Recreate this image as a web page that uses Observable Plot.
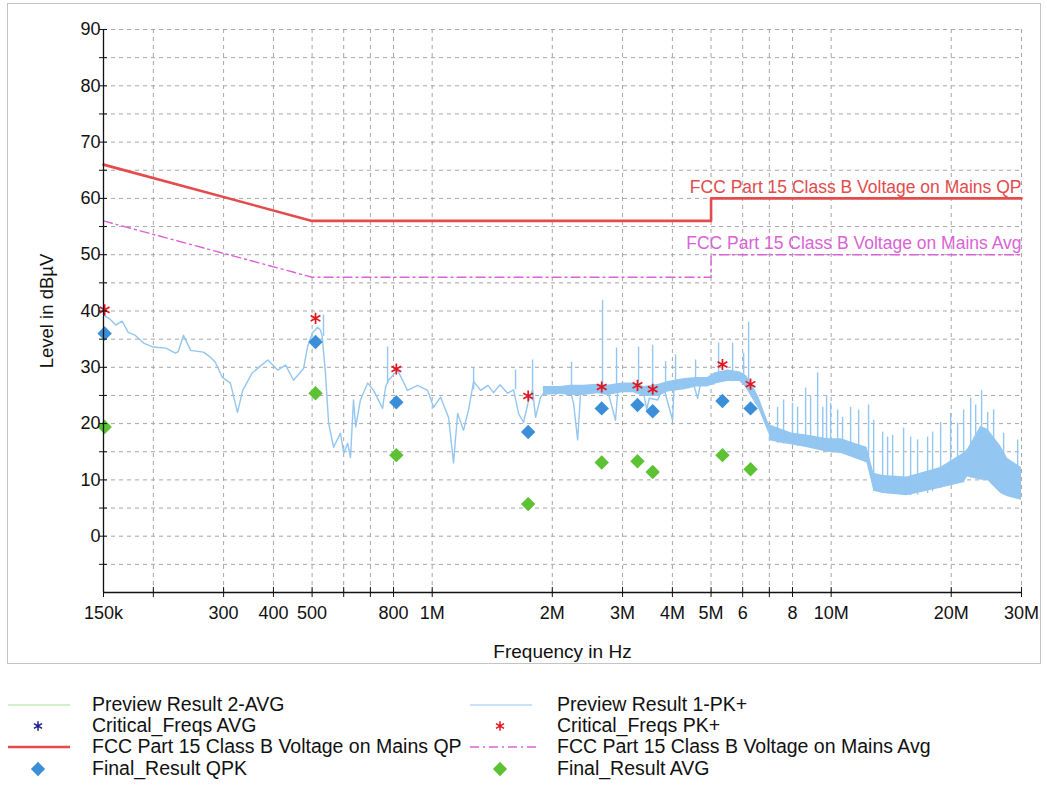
<!DOCTYPE html>
<html><head><meta charset="utf-8">
<script src="https://cdn.jsdelivr.net/npm/d3@7"></script>
<script src="https://cdn.jsdelivr.net/npm/@observablehq/plot@0.6"></script>
<style>
body{margin:0;background:#fff;font-family:"Liberation Sans",Arial,sans-serif;}
#wrap{position:relative;width:1047px;height:785px;overflow:hidden;}
#frame{position:absolute;left:7px;top:3px;width:1032px;height:659px;border:1px solid #c4c4c4;pointer-events:none;}
#chart{position:absolute;left:0;top:0;}
#legend{position:absolute;left:0;top:0;width:1047px;height:785px;pointer-events:none;}
.lg{position:absolute;font-size:19.5px;color:#111;white-space:nowrap;line-height:21px;}
</style></head><body>
<div id="wrap"><div id="chart"></div><div id="frame"></div><div id="legend"></div></div>
<script>
// ---- Data (frequency in MHz, level in dBµV) ----
const traceF = [0.150,0.156,0.161,0.167,0.173,0.180,0.189,0.200,0.215,0.227,0.231,0.238,0.248,0.267,0.278,0.286,0.298,0.312,0.325,0.335,0.354,0.387,0.410,0.429,0.449,0.476,0.487,0.501,0.516,0.525,0.530,0.540,0.550,0.566,0.589,0.600,0.614,0.624,0.635,0.643,0.661,0.689,0.713,0.751,0.764,0.777,0.819,0.867,0.919,0.974,1.008,1.050,1.099,1.131,1.158,1.198,1.233,1.270,1.322,1.380,1.425,1.480,1.545,1.600,1.646,1.694,1.743,1.785,1.816,1.869,1.947,1.980,2.040,2.098,2.135,2.180,2.225,2.262,2.315,2.355,2.430,2.495,2.600,2.751,2.881,2.920,3.018,3.142,3.250,3.387,3.450,3.500,3.673,3.800,4.005,4.040,4.150,4.266,4.380,4.500,4.626,4.720,4.900,5.074,5.200,5.345,5.500,5.620,5.750,5.931,6.100,6.260,6.393,6.654,7.049];
const traceL = [39.3,38.5,37.5,38.2,36.2,35.7,34.3,33.6,33.4,32.5,32.8,35.7,33.0,32.7,31.8,30.9,28.2,27.2,22.0,25.9,29.0,31.3,29.5,30.4,27.7,29.8,33.6,36.1,37.1,36.6,35.5,29.0,20.1,15.8,18.3,14.7,16.5,14.0,24.2,19.4,24.2,27.2,25.9,22.7,26.5,27.7,29.5,25.9,26.8,25.9,22.9,24.7,21.1,13.0,21.8,18.8,22.4,27.5,25.9,26.8,25.5,26.9,25.4,26.0,21.8,20.2,24.0,26.0,21.1,24.7,26.3,26.3,25.2,25.9,25.9,25.0,25.5,23.5,17.1,25.5,26.6,25.9,26.0,25.9,20.6,26.0,26.5,26.8,25.8,25.4,22.5,24.5,24.2,26.5,20.6,27.0,26.2,27.2,26.4,27.5,24.5,27.5,27.4,27.0,28.4,29.0,29.0,27.6,28.5,28.2,28.5,27.0,25.9,22.9,18.8];
const denseF    = [1.90,2.10,2.22,2.40,2.60,2.75,3.00,3.20,3.40,3.70,3.90,4.30,4.60,4.90,5.10,5.50,5.90,6.10,6.30,6.60,7.00];
const denseLow  = [25.0,25.2,25.0,25.0,25.3,25.0,25.5,25.5,24.8,24.8,25.6,26.0,26.5,26.5,27.0,27.5,27.5,26.5,24.8,22.5,18.0];
const denseHigh = [26.6,26.6,26.8,26.8,27.0,26.8,27.2,27.2,26.6,27.0,27.5,28.0,28.2,28.2,29.0,29.5,29.2,28.6,27.4,24.6,19.6];
const bandF    = [7.0,7.5,8.0,8.6,9.8,10.6,11.8,12.3,12.8,13.5,15.5,18.8,21.5,22.0,23.7,24.7,26.6,27.7,30.0];
const bandLow  = [17.0,16.5,16.2,15.8,14.9,14.7,13.5,13.0,8.0,7.6,7.2,8.5,9.5,10.5,10.0,9.9,7.6,7.0,6.4];
const bandHigh = [19.8,19.0,18.3,18.0,17.3,17.3,16.2,15.8,11.2,10.8,10.5,12.2,14.8,15.5,19.5,19.0,16.0,13.8,12.2];
const spikeF   = [0.534,0.773,1.270,1.618,1.785,2.235,2.673,2.898,3.291,3.569,3.846,4.074,4.573,5.223,5.662,6.035,6.210,7.34,7.60,8.00,8.24,8.63,8.88,9.25,9.53,9.74,9.97,10.38,10.68,11.19,11.72,12.41,12.78,13.46,13.85,14.26,15.19,15.82,16.47,17.45,17.96,18.81,19.93,20.75,21.48,22.37,23.03,23.83,24.68,25.54,27.06,29.34];
const spikeBase= [35.5,27.0,26.0,26.0,24.0,26.0,26.5,26.0,26.5,25.0,26.5,27.0,28.0,28.5,29.0,28.5,27.5,16.5,16.4,16.2,16.0,15.8,15.7,15.5,15.3,15.0,14.9,14.8,14.7,14.2,13.6,13.0,8.0,7.6,7.5,7.4,7.3,7.2,7.3,7.6,7.9,8.5,9.0,9.3,9.5,10.3,10.2,10.0,9.9,9.0,7.4,6.8];
const spikeTop = [39.3,33.6,29.8,29.5,31.3,30.9,41.9,33.4,33.6,33.9,31.0,32.2,31.3,34.3,34.3,32.5,38.0,22.9,24.2,23.6,22.9,26.3,25.0,29.0,22.9,25.0,23.6,22.4,21.1,22.9,22.4,23.3,20.6,18.5,17.6,17.9,19.2,17.6,17.1,17.6,18.5,20.2,21.8,20.1,22.4,24.5,23.3,25.9,22.0,22.4,18.3,17.1];
const critF    = [0.151,0.510,0.813,1.74,2.66,3.27,3.57,5.34,6.28];
const critPK   = [40.2,38.7,29.7,24.9,26.5,26.8,26.1,30.5,27.0];
const finalQPK = [36.0,34.5,23.8,18.5,22.7,23.3,22.2,24.0,22.7];
const finalAVG = [19.4,25.4,14.4,5.7,13.1,13.3,11.4,14.4,11.9];
const limitF   = [0.15,0.5,5,5,30];
const limitQP  = [66,56,56,60,60];
const limitAvg = [56,46,46,50,50];
const limitNames = ["FCC Part 15 Class B Voltage on Mains QP","FCC Part 15 Class B Voltage on Mains Avg"];
const xTickValues = [0.15,0.2,0.3,0.4,0.5,0.6,0.7,0.8,1,2,3,4,5,6,7,8,10,20,30];
const xLabelValues = [0.15,0.3,0.4,0.5,0.8,1,2,3,4,5,6,8,10,20,30];
const xLabelTexts  = ["150k","300","400","500","800","1M","2M","3M","4M","5M","6","8","10M","20M","30M"];
const yLabelValues = [0,10,20,30,40,50,60,70,80,90];
const yTickValues  = [-5,0,5,10,15,20,25,30,35,40,45,50,55,60,65,70,75,80,85,90];
const axisTitles = ["Frequency in Hz","Level in dBµV"];
const legendNames = ["Preview Result 2-AVG","Preview Result 1-PK+","Critical_Freqs AVG","Critical_Freqs PK+","FCC Part 15 Class B Voltage on Mains QP","FCC Part 15 Class B Voltage on Mains Avg","Final_Result QPK","Final_Result AVG"];

// ---- styles ----
const C = {trace:"#93c6f0", avgTrace:"#a8e09a", qp:"#e34b4d", avg:"#d963d6", pk:"#e3141e", critAvg:"#1a1a8c", qpk:"#3b8fd9", favg:"#5cc233", grid:"#a6a6a6"};
const FONT = '"Liberation Sans",Arial,sans-serif';

const trace = traceF.map((f,i)=>({f, l:traceL[i]}));
const dense = denseF.map((f,i)=>({f, lo:denseLow[i], hi:denseHigh[i]}));
const band = bandF.map((f,i)=>({f, lo:bandLow[i], hi:bandHigh[i]}));
const spikes = spikeF.map((f,i)=>({f, b:spikeBase[i], t:spikeTop[i]}));
const finals = critF.map((f,i)=>({f, pk:critPK[i], qpk:finalQPK[i], avg:finalAVG[i]}));
const limits = limitF.map((f,i)=>({f, qp:limitQP[i], avg:limitAvg[i]}));
const blank = () => "";

const chart = Plot.plot({
  width:1047, height:670,
  marginLeft:103, marginRight:26, marginTop:29, marginBottom:78,
  x:{type:"log", domain:[0.15,30]},
  y:{domain:[-10,90]},
  style:{fontFamily:FONT, background:"transparent", overflow:"visible", color:"#111"},
  marks:[
    Plot.gridY(yTickValues, {stroke:C.grid, strokeOpacity:1, strokeDasharray:"4,4"}),
    Plot.gridX(xTickValues.slice(1), {stroke:C.grid, strokeOpacity:1, strokeDasharray:"4,4"}),
    Plot.areaY(dense, {x:"f", y1:"lo", y2:"hi", fill:C.trace}),
    Plot.areaY(band, {x:"f", y1:"lo", y2:"hi", fill:C.trace}),
    Plot.ruleX(spikes, {x:"f", y1:"b", y2:"t", stroke:C.trace, strokeWidth:1.4}),
    Plot.line(trace, {x:"f", y:"l", stroke:C.trace, strokeWidth:1.4}),
    Plot.line(limits, {x:"f", y:"avg", stroke:C.avg, strokeWidth:1.4, strokeDasharray:"9,4,2,4"}),
    Plot.line(limits, {x:"f", y:"qp", stroke:C.qp, strokeWidth:2.6}),
    Plot.text([limits[limits.length-1]], {x:"f", y:"qp", text:()=>limitNames[0], textAnchor:"end", dy:-11, fill:C.qp, fontSize:17.5}),
    Plot.text([limits[limits.length-1]], {x:"f", y:"avg", text:()=>limitNames[1], textAnchor:"end", dy:-11, fill:C.avg, fontSize:17.5}),
    Plot.dot(finals, {x:"f", y:"qpk", symbol:"diamond2", fill:C.qpk, r:6.5}),
    Plot.dot(finals, {x:"f", y:"avg", symbol:"diamond2", fill:C.favg, r:6.5}),
    Plot.dot(finals, {x:"f", y:"pk", symbol:"asterisk", stroke:C.pk, r:5.3, strokeWidth:1.7}),
    Plot.ruleX([0.15], {y1:-10, y2:90, stroke:"#111", strokeWidth:1.3}),
    Plot.ruleY([-10], {stroke:"#111", strokeWidth:1.3}),
    Plot.axisY(yTickValues, {tickSize:4, tickFormat:blank, stroke:"#111", label:null}),
    Plot.axisY(yTickValues, {tickSize:-4, tickFormat:blank, stroke:"#111", label:null}),
    Plot.axisY(yLabelValues, {tickSize:0, tickPadding:3, fontSize:18, label:null}),
    Plot.axisX(xTickValues, {tickSize:5, tickFormat:blank, stroke:"#111", label:null}),
    Plot.axisX(xTickValues, {tickSize:-5, tickFormat:blank, stroke:"#111", label:null}),
    Plot.text(xLabelValues, {x:d=>d, text:(d,i)=>xLabelTexts[i], frameAnchor:"bottom", lineAnchor:"middle", dy:21, fontSize:18, fill:"#111"}),
    Plot.text([axisTitles[0]], {frameAnchor:"bottom", lineAnchor:"middle", textAnchor:"middle", dy:59, fontSize:19, fill:"#111"}),
    Plot.text([axisTitles[1]], {frameAnchor:"left", textAnchor:"middle", lineAnchor:"middle", rotate:-90, dx:-56, fontSize:18.5, fill:"#111"})
  ]
});
document.getElementById("chart").appendChild(chart);

// ---- legend (HTML below the plot) ----
const leg = d3.select("#legend");
const rowsY = [705,726,747,769];
const colSw = [8,470], colTx = [92,557];
const items = [
  {type:"line", color:C.avgTrace, w:1.2},
  {type:"line", color:C.trace, w:1.2},
  {type:"star", color:C.critAvg},
  {type:"star", color:C.pk},
  {type:"line", color:C.qp, w:2.6},
  {type:"dash", color:C.avg, w:1.4},
  {type:"diamond", color:C.qpk},
  {type:"diamond", color:C.favg}
];
items.forEach((it,i)=>{
  const col = i%2, row = Math.floor(i/2);
  const y = rowsY[row];
  const svg = leg.append("svg").style("position","absolute").style("left",colSw[col]+"px").style("top",(y-10)+"px").attr("width",66).attr("height",20);
  if(it.type==="line"||it.type==="dash"){
    svg.append("line").attr("x1",0).attr("x2",it.type==="dash"?66:62).attr("y1",10).attr("y2",10).attr("stroke",it.color).attr("stroke-width",it.w).attr("stroke-dasharray",it.type==="dash"?"9,4,2,4":null);
  } else if(it.type==="star"){
    svg.append("path").attr("transform","translate(30,10)").attr("d",d3.symbol(d3.symbolAsterisk, 60)()).attr("stroke",it.color).attr("stroke-width",1.5).attr("fill","none");
  } else {
    svg.append("path").attr("transform","translate(30,10)").attr("d",d3.symbol(d3.symbolDiamond2, 130)()).attr("fill",it.color);
  }
  leg.append("div").attr("class","lg").style("left",colTx[col]+"px").style("top",(y-11)+"px").text(legendNames[i]);
});
</script></body></html>
